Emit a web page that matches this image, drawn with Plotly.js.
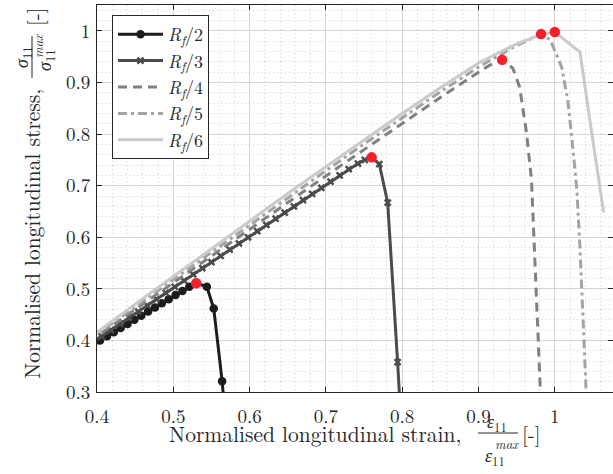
<!DOCTYPE html>
<html>
<head>
<meta charset="utf-8">
<script src="https://cdn.plot.ly/plotly-3.0.1.min.js"></script>
<style>html,body{margin:0;padding:0;background:#fff;}#chart{width:613px;height:474px;}</style>
</head>
<body>
<div id="chart"></div>
<script>
// Rf/2
const x_rf2 = [0.395,0.404,0.413,0.422,0.431,0.440,0.449,0.458,0.467,0.476,0.485,0.494,0.503,0.512,0.521,0.530,0.544,0.553,0.564,0.567];
const y_rf2 = [0.393,0.400,0.408,0.416,0.424,0.432,0.440,0.448,0.456,0.464,0.472,0.480,0.488,0.496,0.504,0.511,0.504,0.462,0.321,0.270];
// Rf/3
const x_rf3 = [0.394,0.406,0.418,0.430,0.442,0.454,0.466,0.478,0.490,0.502,0.514,0.526,0.538,0.550,0.562,0.574,0.586,0.598,0.610,0.622,0.634,0.646,0.658,0.670,0.682,0.694,0.706,0.718,0.730,0.742,0.751,0.760,0.770,0.781,0.794,0.797];
const y_rf3 = [0.396,0.408,0.420,0.432,0.444,0.456,0.468,0.480,0.492,0.504,0.516,0.528,0.540,0.552,0.564,0.576,0.588,0.600,0.612,0.624,0.636,0.648,0.660,0.672,0.684,0.696,0.708,0.720,0.732,0.743,0.750,0.755,0.742,0.667,0.358,0.280];
// Rf/4
const x_rf4 = [0.39,0.40,0.45,0.50,0.55,0.60,0.65,0.70,0.75,0.80,0.85,0.90,0.915,0.931,0.945,0.954,0.963,0.9695,0.973,0.977,0.981,0.982];
const y_rf4 = [0.398,0.408,0.460,0.512,0.564,0.616,0.668,0.719,0.770,0.821,0.871,0.920,0.934,0.944,0.928,0.891,0.802,0.711,0.581,0.453,0.300,0.270];
// Rf/5
const x_rf5 = [0.39,0.40,0.45,0.50,0.55,0.60,0.65,0.70,0.75,0.80,0.85,0.90,0.95,0.982,0.994,1.009,1.017,1.024,1.029,1.033,1.037,1.041,1.042];
const y_rf5 = [0.401,0.412,0.465,0.518,0.571,0.624,0.677,0.729,0.781,0.832,0.882,0.930,0.972,0.994,0.983,0.930,0.866,0.769,0.690,0.581,0.453,0.300,0.270];
// Rf/6
const x_rf6 = [0.39,0.40,0.45,0.50,0.55,0.60,0.65,0.70,0.75,0.80,0.85,0.90,0.95,0.98,1.00,1.033,1.046,1.064];
const y_rf6 = [0.405,0.416,0.470,0.524,0.578,0.632,0.685,0.737,0.789,0.840,0.890,0.938,0.975,0.992,0.998,0.959,0.827,0.648];
// Peak (failure) points
const x_peak = [0.530,0.760,0.931,0.982,1.000];
const y_peak = [0.511,0.755,0.944,0.994,0.998];

const seriesNames = ['<i>R</i><sub><i>f</i></sub>/2','<i>R</i><sub><i>f</i></sub>/3','<i>R</i><sub><i>f</i></sub>/4','<i>R</i><sub><i>f</i></sub>/5','<i>R</i><sub><i>f</i></sub>/6'];

const FONT = 'Latin Modern Roman';
const TXT = '#262626';

const traces = [
  {x:x_rf2, y:y_rf2, name:seriesNames[0], mode:'lines+markers', line:{color:'#1c1c1c', width:3}, marker:{symbol:'circle', size:8.5, color:'#1c1c1c'}},
  {x:x_rf3, y:y_rf3, name:seriesNames[1], mode:'lines+markers', line:{color:'#4b4b4b', width:3}, marker:{symbol:'x-thin', size:6, color:'#4b4b4b', line:{width:2.5, color:'#4b4b4b'}}},
  {x:x_rf4, y:y_rf4, name:seriesNames[2], mode:'lines', line:{color:'#808080', width:3, dash:'9px,6px'}},
  {x:x_rf5, y:y_rf5, name:seriesNames[3], mode:'lines', line:{color:'#a3a3a3', width:3, dash:'9px,4px,3px,4px'}},
  {x:x_rf6, y:y_rf6, name:seriesNames[4], mode:'lines', line:{color:'#cacaca', width:3}},
  {x:x_peak, y:y_peak, name:'peak', mode:'markers', showlegend:false, marker:{symbol:'circle', size:10.5, color:'#f5202a'}}
];

// pixel helpers for the axis-title pieces (plot area: l=97, t=5, w=516, h=387)
function px(p){ return (p-97)/516; }
function py(p){ return (392-p)/387; }

const annotations = [
  {xref:'paper', yref:'paper', x:px(463), y:py(433), xanchor:'right', yanchor:'middle', showarrow:false,
   text:'Normalised longitudinal strain,', font:{family:FONT, size:21.5, color:TXT}},
  {xref:'paper', yref:'paper', x:px(497), y:py(422), xanchor:'center', yanchor:'middle', showarrow:false,
   text:'<i>ε</i><sub>11</sub>', font:{family:FONT, size:18, color:TXT}},
  {xref:'paper', yref:'paper', x:px(495), y:py(456), xanchor:'center', yanchor:'middle', showarrow:false,
   text:'<i>ε</i><sub>11</sub>', font:{family:FONT, size:18, color:TXT}},
  {xref:'paper', yref:'paper', x:px(507), y:py(443), xanchor:'center', yanchor:'middle', showarrow:false,
   text:'<i>max</i>', font:{family:FONT, size:13, color:TXT}},
  {xref:'paper', yref:'paper', x:px(531), y:py(433), xanchor:'center', yanchor:'middle', showarrow:false,
   text:'[-]', font:{family:FONT, size:21, color:TXT}},

  {xref:'paper', yref:'paper', x:px(31), y:py(234), xanchor:'center', yanchor:'middle', showarrow:false, textangle:-90,
   text:'Normalised longitudinal stress,', font:{family:FONT, size:21.5, color:TXT}},
  {xref:'paper', yref:'paper', x:px(22), y:py(58), xanchor:'center', yanchor:'middle', showarrow:false, textangle:-90,
   text:'<i>σ</i><sub>11</sub>', font:{family:FONT, size:18, color:TXT}},
  {xref:'paper', yref:'paper', x:px(45), y:py(61), xanchor:'center', yanchor:'middle', showarrow:false, textangle:-90,
   text:'<i>σ</i><sub>11</sub>', font:{family:FONT, size:18, color:TXT}},
  {xref:'paper', yref:'paper', x:px(37), y:py(46), xanchor:'center', yanchor:'middle', showarrow:false, textangle:-90,
   text:'<i>max</i>', font:{family:FONT, size:13, color:TXT}},
  {xref:'paper', yref:'paper', x:px(34), y:py(17), xanchor:'center', yanchor:'middle', showarrow:false, textangle:-90,
   text:'[-]', font:{family:FONT, size:21, color:TXT}}
];

const shapes = [
  {type:'line', xref:'paper', yref:'paper', x0:px(478), x1:px(518), y0:py(433), y1:py(433), line:{color:TXT, width:1}},
  {type:'line', xref:'paper', yref:'paper', x0:px(32), x1:px(32), y0:py(36), y1:py(78), line:{color:TXT, width:1}}
];

const axisCommon = {
  showline:true, linecolor:'#262626', linewidth:1, mirror:'ticks',
  ticks:'inside', ticklen:5, tickcolor:'#262626', tickwidth:1,
  showgrid:true, gridcolor:'#d6d6d6', gridwidth:1, zeroline:false,
  tickfont:{family:FONT, size:19, color:TXT},
  dtick:0.1,
  minor:{dtick:0.02, showgrid:true, gridcolor:'#d0d0d0', griddash:'1px,3px', gridwidth:1, ticks:''}
};

const layout = {
  width:613, height:474,
  margin:{l:97, r:0, t:5, b:82},
  paper_bgcolor:'#ffffff', plot_bgcolor:'#ffffff',
  font:{family:FONT, color:TXT},
  showlegend:true,
  legend:{x:px(112), y:py(15), xanchor:'left', yanchor:'top', bgcolor:'#ffffff', bordercolor:'#262626', borderwidth:1,
          font:{family:FONT, size:18, color:TXT}, itemwidth:45, tracegroupgap:0},
  xaxis:Object.assign({}, axisCommon, {range:[0.4, 1.0763], tick0:0.4, ticklabelstandoff:7}),
  yaxis:Object.assign({}, axisCommon, {range:[0.3, 1.0504], tick0:0.3, ticklabelstandoff:2}),
  annotations:annotations,
  shapes:shapes
};

Plotly.newPlot('chart', traces, layout, {displayModeBar:false, staticPlot:true});
</script>
</body>
</html>
